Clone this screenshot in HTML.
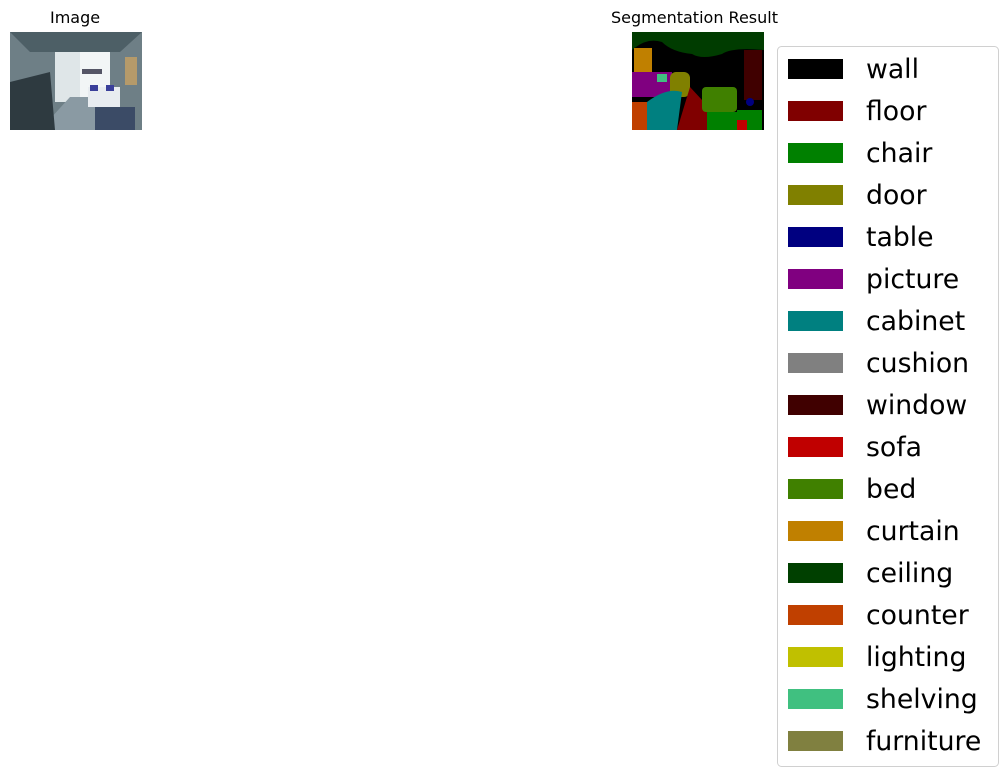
<!DOCTYPE html>
<html><head><meta charset="utf-8"><style>
body{margin:0;background:#fff;width:1006px;height:776px;overflow:hidden;font-family:"Liberation Sans","DejaVu Sans",sans-serif}
.t{position:absolute;font-size:16px;color:#000;font-family:"DejaVu Sans","Liberation Sans",sans-serif}
</style></head><body>
<div class="t" style="left:50px;top:8px;">Image</div>
<svg style="position:absolute;left:10px;top:32px" width="132" height="98" viewBox="0 0 132 98">
<rect width="132" height="98" fill="#6e7f86"/>
<polygon points="0,0 132,0 110,20 20,20" fill="#4d5f66"/>
<rect x="45" y="20" width="55" height="50" fill="#dfe6e8"/>
<rect x="70" y="20" width="30" height="50" fill="#f2f5f6"/>
<polygon points="30,98 60,65 80,65 100,98" fill="#8a9aa3"/>
<polygon points="0,50 40,40 45,98 0,98" fill="#2e3a40"/>
<rect x="78" y="55" width="32" height="20" fill="#e8ecf0"/>
<rect x="80" y="53" width="8" height="6" fill="#3a3f9a"/><rect x="96" y="53" width="8" height="6" fill="#3a3f9a"/>
<rect x="85" y="75" width="40" height="23" fill="#3b4b66"/>
<rect x="115" y="25" width="12" height="28" fill="#b59a6a"/>
<rect x="72" y="37" width="20" height="5" fill="#556"/>
</svg>
<div class="t" style="left:611px;top:8px;">Segmentation Result</div>
<svg style="position:absolute;left:632px;top:32px" width="132" height="98" viewBox="0 0 132 98">
<rect width="132" height="98" fill="#000"/>
<path d="M0,0 H132 V18 Q100,15 90,22 Q70,28 60,22 Q40,20 30,10 Q15,5 0,18Z" fill="#003c00"/>
<rect x="2" y="16" width="18" height="40" fill="#c08000"/>
<rect x="112" y="18" width="18" height="50" fill="#400000"/>
<path d="M0,40 H40 V65 H0Z" fill="#800080"/>
<rect x="38" y="40" width="20" height="25" fill="#808000" rx="6"/>
<path d="M5,98 L15,70 Q35,55 50,60 L45,98Z" fill="#008080"/>
<polygon points="45,98 58,55 70,68 85,98" fill="#800000"/>
<rect x="70" y="55" width="35" height="25" fill="#408000" rx="4"/>
<rect x="0" y="70" width="15" height="28" fill="#c04000"/>
<rect x="75" y="80" width="30" height="18" fill="#008000"/>
<rect x="105" y="78" width="25" height="20" fill="#008000"/>
<circle cx="118" cy="70" r="4" fill="#000080"/>
<rect x="105" y="88" width="10" height="10" fill="#c00000"/>
<rect x="25" y="42" width="10" height="8" fill="#40c080"/>
</svg>
<svg style="position:absolute;left:0;top:0" width="1006" height="776">
<rect x="777.5" y="46.5" width="221" height="720" rx="4" fill="#fff" stroke="#d0d0d0"/>
<g id="lg"></g>
</svg>
<script>
const labels=["wall","floor","chair","door","table","picture","cabinet","cushion","window","sofa","bed","curtain","ceiling","counter","lighting","shelving","furniture"];
const colors=["#000000","#800000","#008000","#808000","#000080","#800080","#008080","#808080","#400000","#c00000","#408000","#c08000","#004000","#c04000","#c0c000","#40c080","#808040"];
const g=document.getElementById('lg');const ns="http://www.w3.org/2000/svg";
labels.forEach((l,i)=>{const y=69+i*42;
const r=document.createElementNS(ns,'rect');


r.setAttribute('x',788);r.setAttribute('y',y-10);r.setAttribute('width',55);r.setAttribute('height',20);r.setAttribute('fill',colors[i]);g.appendChild(r);
const t=document.createElementNS(ns,'text');


t.setAttribute('x',866);t.setAttribute('y',y+9);t.setAttribute('font-size','26.7');t.setAttribute('font-family','DejaVu Sans, Liberation Sans, sans-serif');t.textContent=l;g.appendChild(t);});
</script>
</body></html>
